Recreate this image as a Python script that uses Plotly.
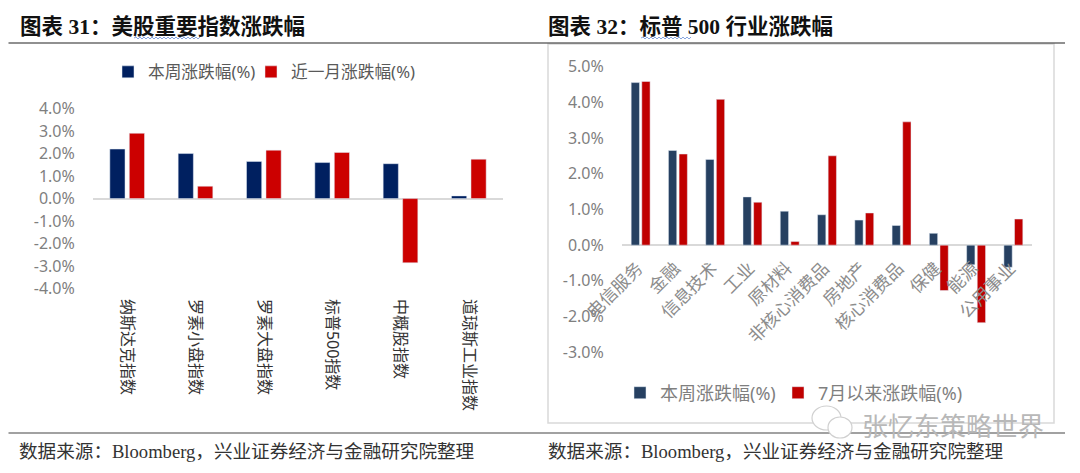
import plotly.graph_objects as go

W, H = 1080, 473

left_categories = ["纳斯达克指数", "罗素小盘指数", "罗素大盘指数", "标普500指数", "中概股指数", "道琼斯工业指数"]
left_week = [2.2, 2.0, 1.65, 1.6, 1.55, 0.12]
left_month = [2.9, 0.55, 2.15, 2.05, -2.85, 1.75]

right_categories = ["电信服务", "金融", "信息技术", "工业", "原材料", "非核心消费品", "房地产", "核心消费品", "保健", "能源", "公用事业"]
right_week = [4.55, 2.65, 2.4, 1.35, 0.95, 0.85, 0.7, 0.55, 0.33, -0.55, -0.62]
right_july = [4.58, 2.55, 4.08, 1.2, 0.1, 2.5, 0.9, 3.45, -1.27, -2.17, 0.73]

left_ticks = [-4, -3, -2, -1, 0, 1, 2, 3, 4]
right_ticks = [-3, -2, -1, 0, 1, 2, 3, 4, 5]

SANS = "Noto Sans, Noto Sans CJK SC, sans-serif"
MIXED = "Liberation Serif, Noto Sans CJK SC, serif"


def px(x):
    return x / W


def py(y):
    return 1 - y / H


fig = go.Figure()
fig.add_bar(x=left_categories, y=left_week, name="本周涨跌幅(%)", marker_color="#002060",
            xaxis="x", yaxis="y", legend="legend")
fig.add_bar(x=left_categories, y=left_month, name="近一月涨跌幅(%)", marker_color="#CC0000",
            xaxis="x", yaxis="y", legend="legend2")
fig.add_bar(x=right_categories, y=right_week, name="本周涨跌幅(%)", marker_color="#264061",
            xaxis="x2", yaxis="y2", legend="legend3")
fig.add_bar(x=right_categories, y=right_july, name="7月以来涨跌幅(%)", marker_color="#C00000",
            xaxis="x2", yaxis="y2", legend="legend4")


def tickfmt(ticks):
    return [f"{t:.1f}%" for t in ticks]


def wavy(x0, x1, y):
    pts = [f"M{px(x0)},{py(y)}"]
    x = x0
    up = True
    while x < x1:
        x += 2
        pts.append(f"L{px(x)},{py(y - 1 if up else y + 1)}")
        up = not up
    return " ".join(pts)


shapes = [
    dict(type="rect", xref="paper", yref="paper", x0=px(548), x1=px(1054), y0=py(423), y1=py(44),
         line=dict(color="#D9D9D9", width=1.5), layer="below"),
    dict(type="line", xref="paper", yref="paper", x0=px(8.5), x1=px(1065), y0=py(43), y1=py(43),
         line=dict(color="#222222", width=1.2)),
    dict(type="line", xref="paper", yref="paper", x0=px(8.5), x1=px(1065), y0=py(433), y1=py(433),
         line=dict(color="#444444", width=1.2)),
    dict(type="path", xref="paper", yref="paper", path=wavy(134, 199, 38), line=dict(color="#6A8FD8", width=0.8)),
    dict(type="path", xref="paper", yref="paper", path=wavy(641, 691, 38), line=dict(color="#6A8FD8", width=0.8)),
    # watermark icon
    dict(type="circle", xref="paper", yref="paper", x0=px(812), x1=px(841), y0=py(430), y1=py(406),
         line=dict(color="#D0D0D0", width=1.2), fillcolor="white"),
    dict(type="circle", xref="paper", yref="paper", x0=px(828), x1=px(852), y0=py(438), y1=py(417),
         line=dict(color="#D0D0D0", width=1.2), fillcolor="white"),
]

annotations = [
    dict(text="<b>图表 31：美股重要指数涨跌幅</b>", x=px(18), y=py(27), font=dict(family=MIXED, size=21.5, color="#111111")),
    dict(text="<b>图表 32：标普 500 行业涨跌幅</b>", x=px(546), y=py(27), font=dict(family=MIXED, size=21.5, color="#111111")),
    dict(text="数据来源：Bloomberg，兴业证券经济与金融研究院整理", x=px(17), y=py(451), font=dict(family=MIXED, size=18.6, color="#333333")),
    dict(text="数据来源：Bloomberg，兴业证券经济与金融研究院整理", x=px(546), y=py(451), font=dict(family=MIXED, size=18.6, color="#333333")),
    dict(text="张忆东策略世界", x=px(860), y=py(426), font=dict(family=SANS, size=26, color="#B8B8B8")),
]
for a in annotations:
    a.update(xref="paper", yref="paper", xanchor="left", yanchor="middle", showarrow=False)


def legend_at(x, y, size, color):
    return dict(orientation="h", x=px(x), y=py(y), xanchor="left", yanchor="middle", bgcolor="rgba(0,0,0,0)",
                font=dict(family=SANS, size=size, color=color), itemclick=False, itemdoubleclick=False)


fig.update_layout(
    width=W, height=H, margin=dict(l=0, r=0, t=0, b=0, pad=0, autoexpand=False),
    paper_bgcolor="white", plot_bgcolor="white", barmode="group", bargap=0.43, bargroupgap=0.22,
    shapes=shapes, annotations=annotations, hovermode=False, showlegend=True,
    xaxis=dict(domain=[px(93), px(503)], anchor="y", tickangle=90, showgrid=False, showline=False,
               ticks="outside", ticklen=6, tickcolor="rgba(0,0,0,0)",
               tickfont=dict(family=SANS, size=16, color="#333333"), automargin=False),
    yaxis=dict(domain=[py(288.7), py(108.5)], anchor="x", range=[-4, 4], tickvals=left_ticks,
               ticktext=tickfmt(left_ticks), showgrid=False, zeroline=True, zerolinecolor="#D9D9D9",
               zerolinewidth=1.5, ticks="outside", ticklen=14, tickcolor="rgba(0,0,0,0)",
               tickfont=dict(family=SANS, size=16, color="#7F7F7F"), automargin=False),
    xaxis2=dict(domain=[px(622), px(1032)], anchor="free", position=py(245.7), tickangle=-45, showgrid=False,
                showline=False, ticks="", ticklabelstandoff=8, ticklabelshift=-3,
                tickfont=dict(family=SANS, size=17.5, color="#8C8C8C"), automargin=False),
    yaxis2=dict(domain=[py(352.3), py(66.5)], anchor="x2", range=[-3, 5], tickvals=right_ticks,
                ticktext=tickfmt(right_ticks), showgrid=False, zeroline=True, zerolinecolor="#D9D9D9",
                zerolinewidth=1.5, ticks="outside", ticklen=14, tickcolor="rgba(0,0,0,0)",
                tickfont=dict(family=SANS, size=16, color="#7F7F7F"), automargin=False),
    legend=legend_at(108, 72, 16.7, "#595959"),
    legend2=legend_at(251, 72, 16.7, "#595959"),
    legend3=legend_at(620, 393, 18, "#7F7F7F"),
    legend4=legend_at(778, 393, 18, "#7F7F7F"),
)

fig.write_html("out.html", config=dict(displayModeBar=False),
               post_script="document.body.style.margin='0';document.body.style.overflow='hidden';")
